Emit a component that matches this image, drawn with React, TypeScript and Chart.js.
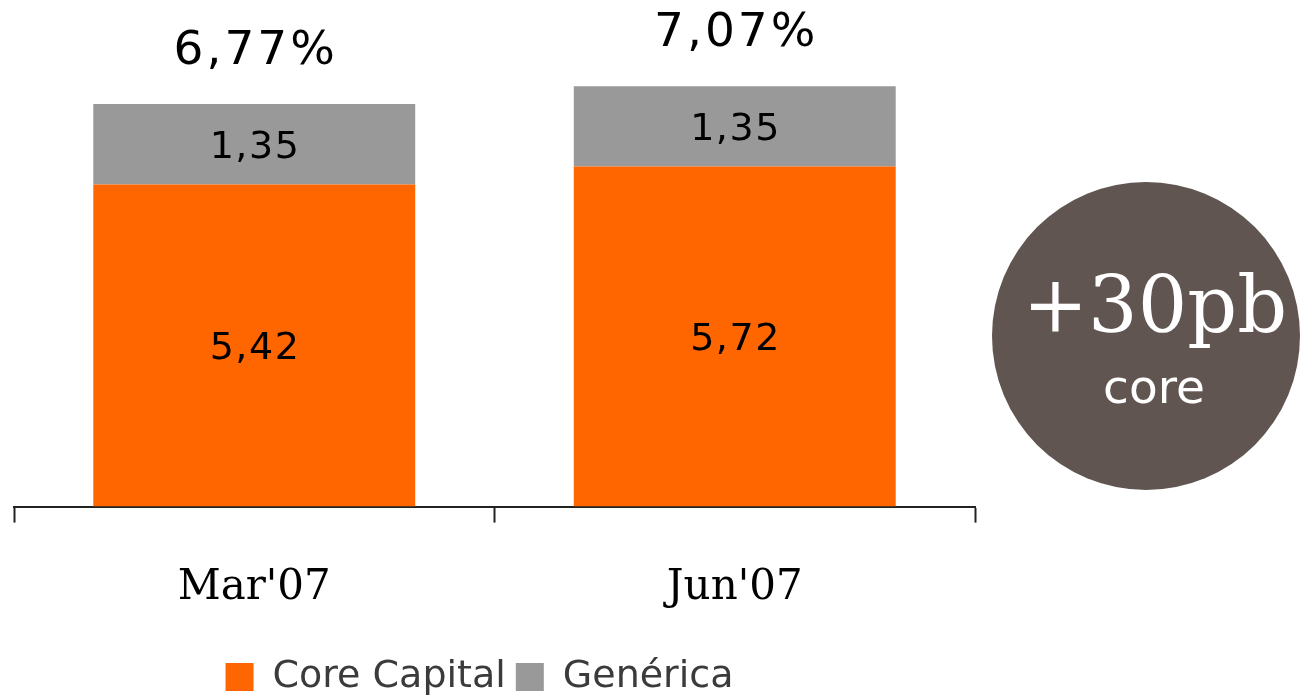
import { useEffect, useRef } from "react";
import { Chart, registerables } from "chart.js";

Chart.register(...registerables);

const categories = ["Mar'07", "Jun'07"];
const coreCapital = [5.42, 5.72];
const generica = [1.35, 1.35];
const totals = [6.77, 7.07];
const seriesNames = ["Core Capital", "Genérica"];
const badgeMain = "+30pb";
const badgeSub = "core";

const ORANGE = "#FF6600";
const GREY = "#999999";
const BADGE = "#605550";
const SANS = '"DejaVu Sans", sans-serif';

const fmt = (v: number) => v.toFixed(2).replace(".", ",");

const labelPlugin = {
  id: "valueLabels",
  afterLayout(chart: any) {
    // shift the legend a little to the left to sit under the bars
    const lg = chart.legend;
    if (lg) {
      lg.left -= 15;
      lg.right -= 15;
    }
  },
  afterDatasetsDraw(chart: any) {
    const ctx = chart.ctx;
    ctx.save();
    ctx.textAlign = "center";
    ctx.textBaseline = "alphabetic";
    ctx.fillStyle = "#000";
    const m0 = chart.getDatasetMeta(0);
    const m1 = chart.getDatasetMeta(1);
    (ctx as any).letterSpacing = "1.5px";
    m0.data.forEach((bar: any, i: number) => {
      const { x, y, base } = bar.getProps(["x", "y", "base"], true);
      ctx.font = `38px ${SANS}`;
      ctx.fillText(fmt(coreCapital[i]), x + 0.75, (y + base) / 2 + 13.5);
    });
    m1.data.forEach((bar: any, i: number) => {
      const { x, y, base } = bar.getProps(["x", "y", "base"], true);
      (ctx as any).letterSpacing = "1.5px";
      ctx.font = `38px ${SANS}`;
      ctx.fillText(fmt(generica[i]), x + 0.75, (y + base) / 2 + 13.5);
      (ctx as any).letterSpacing = "3px";
      ctx.font = `47px ${SANS}`;
      ctx.fillText(fmt(totals[i]) + "%", x + 1.5, y - 40);
    });
    ctx.restore();
  },
  afterDraw(chart: any) {
    const ctx = chart.ctx;
    const area = chart.chartArea;
    const cx = area.right + 171;
    const cy = 336;
    ctx.save();
    ctx.beginPath();
    ctx.arc(cx, cy, 154, 0, Math.PI * 2);
    ctx.fillStyle = BADGE;
    ctx.fill();
    ctx.fillStyle = "#fff";
    ctx.textAlign = "center";
    ctx.textBaseline = "alphabetic";
    ctx.font = '78px "DejaVu Serif", serif';
    ctx.fillText(badgeMain, cx + 9, 332);
    ctx.font = `47px ${SANS}`;
    ctx.fillText(badgeSub, cx + 8, 403);
    ctx.restore();
  },
};

export default function App() {
  const ref = useRef<HTMLCanvasElement>(null);
  useEffect(() => {
    const chart = new Chart(ref.current as HTMLCanvasElement, {
      type: "bar",
      data: {
        labels: categories,
        datasets: [
          {
            label: seriesNames[0],
            data: coreCapital,
            backgroundColor: ORANGE,
            borderWidth: 0,
            barPercentage: 0.67,
            categoryPercentage: 1,
          },
          {
            label: seriesNames[1],
            data: generica,
            backgroundColor: GREY,
            borderWidth: 0,
            barPercentage: 0.67,
            categoryPercentage: 1,
          },
        ],
      },
      options: {
        responsive: true,
        maintainAspectRatio: false,
        animation: false,
        layout: { padding: { left: 14, right: 328, top: 31, bottom: -7 } },
        plugins: {
          tooltip: { enabled: false },
          legend: {
            position: "bottom",
            fullSize: false,
            labels: {
              boxWidth: 28,
              boxHeight: 28,
              padding: 10,
              color: "#3b3b3b",
              font: { family: SANS, size: 38 },
            },
          },
        },
        scales: {
          x: {
            stacked: true,
            border: { display: true, color: "#222", width: 2 },
            grid: {
              offset: true,
              drawOnChartArea: false,
              drawTicks: true,
              tickLength: 16,
              tickWidth: 2,
              tickColor: "#222",
            },
            ticks: {
              color: "#000",
              padding: 40,
              font: { family: '"DejaVu Serif", serif', size: 42 },
            },
            afterFit(scale: any) {
              scale.height -= 5;
            },
          },
          y: {
            stacked: true,
            display: false,
            min: 0,
            max: 8,
          },
        },
      },
      plugins: [labelPlugin],
    });
    return () => chart.destroy();
  }, []);
  return (
    <div style={{ position: "absolute", left: 0, top: 0, width: 1303, height: 699, background: "#fff" }}>
      <canvas ref={ref} />
    </div>
  );
}
